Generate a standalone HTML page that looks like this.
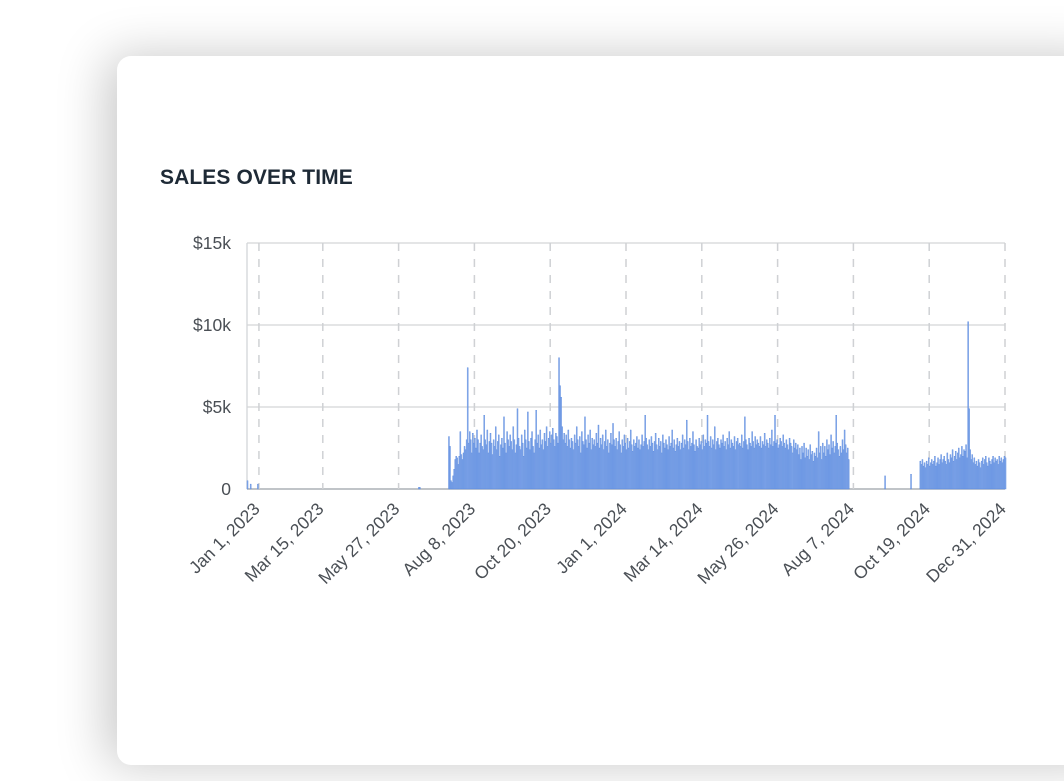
<!DOCTYPE html>
<html><head><meta charset="utf-8"><style>
html,body{margin:0;padding:0;width:1064px;height:781px;overflow:hidden;background:#fff;font-family:"Liberation Sans",sans-serif}
#card{position:absolute;left:117px;top:56px;width:1000px;height:709px;background:#fff;border-radius:14px;box-shadow:-10px 0 50px rgba(0,0,0,0.22)}
#title{position:absolute;left:160px;top:166px;font-size:21px;font-weight:bold;color:#1e2a36;letter-spacing:0.1px}
svg{position:absolute;left:0;top:0}
</style></head><body>
<div id="card"></div>
<div id="title">SALES OVER TIME</div>
<svg id="chart" width="1064" height="781"></svg>
<script>
// daily sales in hundreds of dollars, Jan 1 2023 .. Dec 31 2024
const sales = [
5,0,0,3,0,0,0,0,0,0,3,
0,0,0,0,0,0,0,0,0,0,0,0,0,0,0,0,0,0,0,0,
0,0,0,0,0,0,0,0,0,0,0,0,0,0,0,0,0,0,0,0,
0,0,0,0,0,0,0,0,0,0,0,0,0,0,0,0,0,0,0,0,
0,0,0,0,0,0,0,0,0,0,0,0,0,0,0,0,0,0,0,0,
0,0,0,0,0,0,0,0,0,0,0,0,0,0,0,0,0,0,0,0,
0,0,0,0,0,0,0,0,0,0,0,0,0,0,0,0,0,0,0,0,
0,0,0,0,0,0,0,0,0,0,0,0,0,0,0,0,0,0,0,0,
0,0,0,0,0,0,0,0,0,0,0,0,0,0,
1,1,
0,0,0,0,0,0,0,0,0,0,0,0,0,0,0,0,0,0,0,0,0,0,0,0,0,0,0,
32,26,5,4,8,12,18,20,19,15,20,35,21,18,22,26,24,30,74,28,
35,30,22,34,28,31,25,36,30,22,28,33,26,24,45,30,27,36,22,29,
34,28,21,30,26,38,24,29,33,20,27,31,25,44,28,22,35,30,26,33,
29,24,38,30,22,27,49,31,26,24,33,28,20,36,30,25,47,29,24,31,
35,26,22,30,48,28,33,25,36,27,30,24,34,29,38,26,31,35,28,33,
37,30,26,34,32,28,80,63,56,38,30,34,28,33,26,36,30,25,31,29,
24,33,28,38,30,26,32,22,35,29,27,44,30,25,33,28,36,24,31,27,
30,26,34,28,39,25,31,27,33,24,29,36,26,30,22,28,34,27,40,30,
26,31,24,29,35,27,22,30,26,33,28,24,31,25,29,36,27,23,30,26,
28,32,25,30,24,27,33,26,29,45,31,27,24,30,26,32,28,23,29,34,
27,24,31,26,29,22,33,28,25,30,27,24,32,26,28,36,25,30,23,27,
31,26,29,24,28,33,25,30,27,42,29,24,31,26,28,35,27,23,30,26,
25,31,27,29,24,33,26,30,28,45,29,26,32,25,30,27,38,24,29,31,
27,25,30,28,33,26,29,24,31,27,35,25,30,28,26,32,24,29,31,27,
28,26,33,25,29,44,30,27,24,31,28,26,35,29,25,32,27,30,28,26,
32,25,29,27,34,26,30,28,25,31,27,36,26,29,45,28,30,25,27,31,
29,26,33,28,25,30,27,24,31,28,26,22,30,25,28,24,27,21,25,18,
26,22,28,19,25,20,24,18,27,21,23,17,22,20,25,19,35,22,26,18,
28,22,26,20,30,24,27,21,33,25,29,22,26,45,28,24,20,26,22,30,
24,36,27,22,25,18,
0,0,0,0,0,0,0,0,0,0,0,0,0,0,0,0,0,0,0,0,0,0,0,0,0,0,0,0,0,0,0,0,0,0,
8,
0,0,0,0,0,0,0,0,0,0,0,0,0,0,0,0,0,0,0,0,0,0,0,0,
9,
0,0,0,0,0,0,0,0,
17,15,18,14,16,13,17,15,19,14,16,18,15,17,20,14,16,19,15,18,
21,16,18,20,17,15,22,18,16,21,19,24,17,20,23,18,22,25,19,21,
26,20,24,23,27,19,102,49,24,18,21,16,19,15,17,14,18,16,13,17,
19,15,18,20,16,14,19,17,15,18,20,16,19,17,18,15,20,17,19,16,
18,20,19
];
const yTickValues = [0, 5000, 10000, 15000];
const yTickLabels = ["0", "$5k", "$10k", "$15k"];
const xTickDays = [11.5, 73, 146, 219, 292, 365, 438, 511, 584, 657, 730];
const xTickLabels = ["Jan 1, 2023","Mar 15, 2023","May 27, 2023","Aug 8, 2023","Oct 20, 2023","Jan 1, 2024","Mar 14, 2024","May 26, 2024","Aug 7, 2024","Oct 19, 2024","Dec 31, 2024"];

const NS = "http://www.w3.org/2000/svg";
const svg = document.getElementById('chart');
const X0 = 247, X1 = 1005, Y0 = 489, Y1 = 243;
const dayW = (X1 - X0) / 730;
const xs = d => X0 + d * dayW;
const ys = v => Y0 - v / 15000 * (Y0 - Y1);
function mk(tag, attrs){ const e = document.createElementNS(NS, tag); for (const k in attrs) e.setAttribute(k, attrs[k]); svg.appendChild(e); return e; }

yTickValues.forEach((v, i) => {
  const l = mk('line', {x1: X0, x2: X1, y1: ys(v), y2: ys(v), stroke: i === 0 ? '#9aa0a6' : '#d3d5d8', 'stroke-width': 1.3});
  
  
  const t = mk('text', {x: 231, y: ys(v) + 6, 'text-anchor': 'end', 'font-size': 17.5, fill: '#4a4f55', 'font-family': 'Liberation Sans, sans-serif'});
  t.textContent = yTickLabels[i];
  
  
});
const ax = mk('line', {x1: X0, x2: X0, y1: Y1, y2: Y0, stroke: '#d3d5d8', 'stroke-width': 1.3});



xTickDays.forEach((d, i) => {
  const x = xs(d);
  const l = mk('line', {x1: x, x2: x, y1: Y1, y2: Y0, stroke: '#cfd1d4', 'stroke-width': 1.5, 'stroke-dasharray': '8,8'});
  
  
  const t = mk('text', {x: x + 2, y: 510, 'text-anchor': 'end', 'font-size': 17.5, fill: '#4a4f55', 'font-family': 'Liberation Sans, sans-serif', transform: 'rotate(-45 ' + (x + 2) + ' 510)'});
  t.textContent = xTickLabels[i];
  
  
});

sales.forEach((v, d) => {
  if (v <= 0) return;
  const val = v * 100;
  const r = mk('rect', {x: xs(d), y: ys(val), width: dayW, height: Y0 - ys(val), fill: '#8eafeb', stroke: '#4a7fdb', 'stroke-width': 0.35});
  
  
});
</script>
</body></html>
